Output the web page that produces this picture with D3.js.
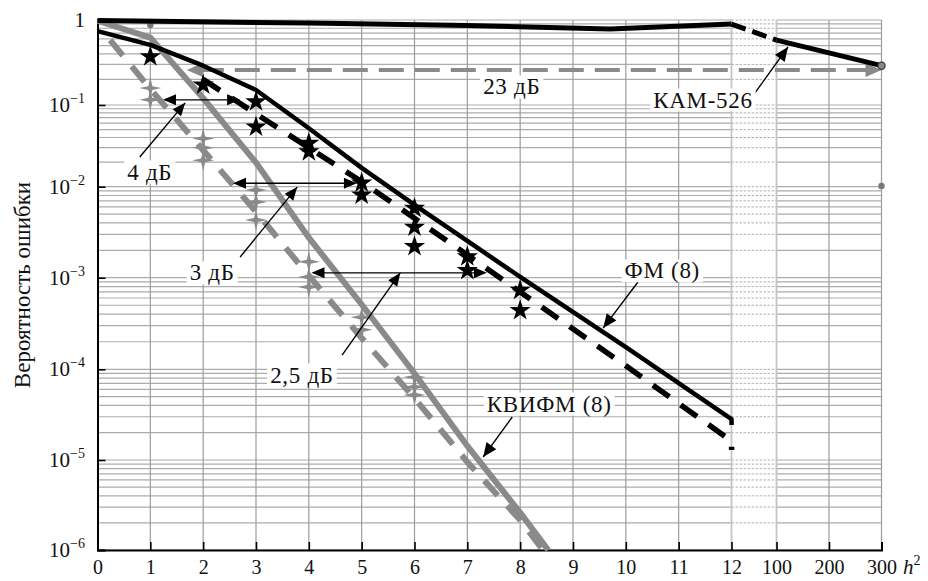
<!DOCTYPE html>
<html><head><meta charset="utf-8">
<script src="https://cdn.jsdelivr.net/npm/d3@7"></script>
<style>
body{margin:0;background:#fff}
svg{display:block}
text{font-family:"Liberation Serif","Times New Roman",serif;fill:#111}
</style>
</head><body>
<svg id="chart" width="928" height="581"></svg>
<script>
// ---------- data ----------
const xTicks = [0,1,2,3,4,5,6,7,8,9,10,11,12,100,200,300];
const yTicks = [1e-6,1e-5,1e-4,1e-3,1e-2,1e-1,1];
const yExponents = [-6,-5,-4,-3,-2,-1,0];

const kamSolid  = [[0,0.985],[4,0.92],[7,0.86],[9.7,0.785],[12,0.895]];
const kamBridge = [[12,0.895],[100,0.58]];
const kamTail   = [[100,0.58],[300,0.29]];

const fmSolid  = [[0,0.74],[1,0.51],[2,0.29],[3,0.15],[4,0.052],[5,0.017],[6,6.3e-3],[8,1.02e-3],[10,1.75e-4],[12,2.83e-5],[12.2,2.43e-5]];
const fmDashed = [[2,0.2],[3,0.078],[4,0.030],[5,0.0115],[6,4.5e-3],[7,1.78e-3],[8,7e-4],[10,1.09e-4],[12,1.62e-5],[12.25,1.29e-5]];

const kvSolid  = [[0,0.98],[1,0.62],[2,0.12],[3,0.0197],[4,2.75e-3],[5,5.1e-4],[6,9e-5],[7,1.43e-5],[8,2.6e-6],[8.53,1e-6]];
const kvDashed = [[0.24,0.58],[1,0.154],[2,0.028],[3,5.3e-3],[4,1.05e-3],[5,2.2e-4],[6,4.8e-5],[7,9.5e-6],[8,2.15e-6],[8.43,1e-6]];

const fmStars = [[1,0.37],[2,0.172],[3,0.109],[3,0.054],[4,0.034],[4,0.0268],[5,0.0111],[5,8.1e-3],
                 [6,5.8e-3],[6,3.6e-3],[6,2.2e-3],[7,1.7e-3],[7,1.2e-3],[8,7.3e-4],[8,4.4e-4]];
const kvStars = [[1,0.158],[1,0.115],[2,0.039],[2,0.030],[2,0.021],[3,9.2e-3],[3,6.8e-3],[3,4.3e-3],
                 [4,1.5e-3],[4,1.02e-3],[4,7.9e-4],[5,3.7e-4],[5,2.7e-4],[6,8.2e-5],[6,6.4e-5],[6,5.2e-5]];
const refDots = [[1,0.873],[300,0.0102]];
const kamEnd = [[300,0.29]];

// annotations (data coordinates)
const gapArrows = [
  {label:'4 дБ',   y:0.115,   x1:1.24,  x2:2.70, txt:[0.99,0.0151],  ptr:[[0.80,0.0231],[1.66,0.106]]},
  {label:'3 дБ',   y:0.011,   x1:2.565, x2:4.91, txt:[2.17,1.13e-3], ptr:[[2.70,1.69e-3],[3.78,9.9e-3]]},
  {label:'2,5 дБ', y:1.13e-3, x1:4.05,  x2:7.37, txt:[3.87,8.65e-5], ptr:[[4.63,1.43e-4],[5.73,1.13e-3]]}
];
const bigGap = {label:'23 дБ', y:0.258, x1:1.69, x2:300, txt:[7.84,0.163]};
const seriesLabels = [
  {label:'КАМ-526',   txt:[11.46,0.1145], ptr:[[52,0.124],[121.9,0.481]]},
  {label:'ФМ (8)',    txt:[10.69,1.19e-3], ptr:[[10.23,8.98e-4],[9.57,2.82e-4]]},
  {label:'КВИФМ (8)', txt:[8.55,4.14e-5], ptr:[[7.85,2.98e-5],[7.30,1.08e-5]]}
];

// ---------- scales ----------
const svg = d3.select('#chart');
const x = d3.scaleLinear().domain([0,12,100,300]).range([97.5,731.5,776.5,881.5]);
const y = d3.scaleLog().domain(yTicks).range([550,460,369.3,277.7,186.7,105,20]);
const X0 = x(0), X12 = x(12), X100 = x(100), X300 = x(300);
const Y0 = y(1e-6), Y1 = y(1);

svg.append('rect').attr('width',928).attr('height',581).attr('fill','#fff');

// ---------- grid ----------
const grid = svg.append('g');
const minor = [];
for (let e=-6; e<0; e++) for (let k=1; k<=9; k++) minor.push(k*Math.pow(10,e));
minor.push(1);
minor.forEach(v=>{
  const yy = y(v);
  grid.append('line').attr('x1',X0).attr('x2',X12).attr('y1',yy).attr('y2',yy).attr('stroke','#ababab').attr('stroke-width',1.2);
  grid.append('line').attr('x1',X12).attr('x2',X100).attr('y1',yy).attr('y2',yy).attr('stroke','#b0b0b0').attr('stroke-width',1).attr('stroke-dasharray','2.5,1.5');
  grid.append('line').attr('x1',X100).attr('x2',X300).attr('y1',yy).attr('y2',yy).attr('stroke','#ababab').attr('stroke-width',1.2);
});
xTicks.filter(v=>v>0).forEach(v=>{
  const light = (v===12||v===100);
  grid.append('line').attr('x1',x(v)).attr('x2',x(v)).attr('y1',Y1).attr('y2',Y0)
    .attr('stroke', light ? '#c4c4c4' : '#9c9c9c').attr('stroke-width', light?1.8:1.2);
});

// ---------- axes ----------
const ax = svg.append('g');
const xAxis = d3.axisBottom(x).tickValues(xTicks).tickSize(-8).tickPadding(10).tickFormat(d=>String(d));
const gx = ax.append('g').attr('transform',`translate(0,${Y0})`).call(xAxis);
gx.select('.domain').attr('stroke','#000').attr('stroke-width',2);
gx.selectAll('.tick line').attr('stroke','#000').attr('stroke-width',1.6);
gx.selectAll('.tick text').attr('font-size',20).attr('font-family','"Liberation Serif",serif').attr('fill','#111');

const yAxis = d3.axisLeft(y).tickValues(yTicks).tickSize(-8).tickFormat(()=> '');
const gy = ax.append('g').attr('transform',`translate(${X0},0)`).call(yAxis);
gy.select('.domain').attr('stroke','#000').attr('stroke-width',2);
gy.selectAll('.tick line').attr('stroke','#000').attr('stroke-width',1.6);
yTicks.forEach((v,i)=>{
  const t = ax.append('text').attr('x',85).attr('y',y(v)+7).attr('text-anchor','end').attr('font-size',21);
  if (yExponents[i]===0) t.text('1');
  else {
    t.append('tspan').text('10');
    t.append('tspan').attr('dy',-9).attr('font-size',14).text('−'+Math.abs(yExponents[i]));
  }
});
// h^2
const hl = ax.append('text').attr('x',903).attr('y',Y0+24).attr('font-size',21);
hl.append('tspan').attr('font-style','italic').text('h');
hl.append('tspan').attr('dy',-9).attr('font-size',14).text('2');
// y title
ax.append('text').attr('transform',`translate(30,285) rotate(-90)`).attr('text-anchor','middle')
  .attr('font-size',23).text('Вероятность ошибки');

// ---------- helpers ----------
const line = d3.line().x(d=>x(d[0])).y(d=>y(d[1]));
function arrowHead(g, x1,y1,x2,y2,len,hw,color){
  const dx=x2-x1, dy=y2-y1, L=Math.hypot(dx,dy), ux=dx/L, uy=dy/L;
  const bx=x2-ux*len, by=y2-uy*len;
  g.append('path').attr('d',`M${x2},${y2}L${bx-uy*hw},${by+ux*hw}L${bx+uy*hw},${by-ux*hw}Z`).attr('fill',color);
}
function boxedText(g, px, py, str, size){
  const t = g.append('text').attr('x',px).attr('y',py).attr('text-anchor','middle')
    .attr('dominant-baseline','central').attr('font-size',size).attr('letter-spacing',0.7).text(str);
  const b = t.node().getBBox();
  g.insert('rect',()=>t.node()).attr('x',b.x-3).attr('y',b.y+1).attr('width',b.width+6).attr('height',b.height-2).attr('fill','#fff');
  return t;
}

// ---------- series ----------
const S = svg.append('g');
// 23 dB gray dashed arrow
{
  const yy = y(bigGap.y);
  S.append('line').attr('x1',x(bigGap.x1)+12).attr('x2',x(bigGap.x2)-12).attr('y1',yy).attr('y2',yy)
    .attr('stroke','#8a8a8a').attr('stroke-width',4).attr('stroke-dasharray','25,11');
  arrowHead(S, x(bigGap.x2)-30, yy, x(bigGap.x1), yy, 16, 7, '#8a8a8a');
  arrowHead(S, x(bigGap.x1)+30, yy, x(bigGap.x2), yy, 16, 7, '#8a8a8a');
}
S.append('path').attr('d',line(kvDashed)).attr('fill','none').attr('stroke','#8a8a8a').attr('stroke-width',6).attr('stroke-dasharray','20,14');
S.append('path').attr('d',line(kvSolid)).attr('fill','none').attr('stroke','#8a8a8a').attr('stroke-width',6);

const star4 = (r, ri) => {
  let p='';
  for (let i=0;i<8;i++){ const a=i*Math.PI/4 - Math.PI/2; const rr = i%2? ri : r; p += (i?'L':'M')+(rr*Math.cos(a)).toFixed(2)+','+(rr*Math.sin(a)).toFixed(2); }
  return p+'Z';
};
S.selectAll('.kvs').data(kvStars).enter().append('path')
  .attr('d',star4(11,2.8)).attr('transform',d=>`translate(${x(d[0])},${y(d[1])})`).attr('fill','#8a8a8a');

S.append('path').attr('d',line(fmDashed)).attr('fill','none').attr('stroke','#000').attr('stroke-width',5.5).attr('stroke-dasharray','20,14');
S.append('path').attr('d',line(fmSolid)).attr('fill','none').attr('stroke','#000').attr('stroke-width',4.5).attr('stroke-linejoin','round');

S.selectAll('.dot').data(refDots).enter().append('circle')
  .attr('cx',d=>x(d[0])).attr('cy',d=>y(d[1])).attr('r',3.2).attr('fill','#777');

S.append('path').attr('d',line(kamSolid)).attr('fill','none').attr('stroke','#000').attr('stroke-width',5).attr('stroke-linejoin','round');
S.append('path').attr('d',line(kamBridge)).attr('fill','none').attr('stroke','#000').attr('stroke-width',5).attr('stroke-dasharray','15,7');
S.append('path').attr('d',line(kamTail)).attr('fill','none').attr('stroke','#000').attr('stroke-width',5);
S.selectAll('.kend').data(kamEnd).enter().append('circle')
  .attr('cx',d=>x(d[0])).attr('cy',d=>y(d[1])).attr('r',3.6).attr('fill','#888').attr('stroke','#333').attr('stroke-width',1.2);

S.selectAll('.fms').data(fmStars).enter().append('path')
  .attr('d',d3.symbol(d3.symbolStar).size(140)()).attr('transform',d=>`translate(${x(d[0])},${y(d[1])})`).attr('fill','#000');

// ---------- annotations ----------
const A = svg.append('g');
gapArrows.forEach(a=>{
  const yy=y(a.y), xa=x(a.x1), xb=x(a.x2);
  A.append('line').attr('x1',xa+8).attr('x2',xb-8).attr('y1',yy).attr('y2',yy).attr('stroke','#000').attr('stroke-width',1.4);
  arrowHead(A, xb, yy, xa, yy, 13, 5.5, '#000');
  arrowHead(A, xa, yy, xb, yy, 13, 5.5, '#000');
  const p0=[x(a.ptr[0][0]),y(a.ptr[0][1])], p1=[x(a.ptr[1][0]),y(a.ptr[1][1])];
  A.append('line').attr('x1',p0[0]).attr('y1',p0[1]).attr('x2',p1[0]).attr('y2',p1[1]).attr('stroke','#000').attr('stroke-width',1.4);
  arrowHead(A, p0[0],p0[1],p1[0],p1[1], 13, 5.5, '#000');
});
seriesLabels.forEach(a=>{
  const p0=[x(a.ptr[0][0]),y(a.ptr[0][1])], p1=[x(a.ptr[1][0]),y(a.ptr[1][1])];
  A.append('line').attr('x1',p0[0]).attr('y1',p0[1]).attr('x2',p1[0]).attr('y2',p1[1]).attr('stroke','#000').attr('stroke-width',1.4);
  arrowHead(A, p0[0],p0[1],p1[0],p1[1], 14, 6, '#000');
});
const T = svg.append('g');
gapArrows.forEach(a=> boxedText(T, x(a.txt[0]), y(a.txt[1]), a.label, 23));
boxedText(T, x(bigGap.txt[0]), y(bigGap.txt[1]), bigGap.label, 23);
seriesLabels.forEach(a=> boxedText(T, x(a.txt[0]), y(a.txt[1]), a.label, 23));
</script>
</body></html>
